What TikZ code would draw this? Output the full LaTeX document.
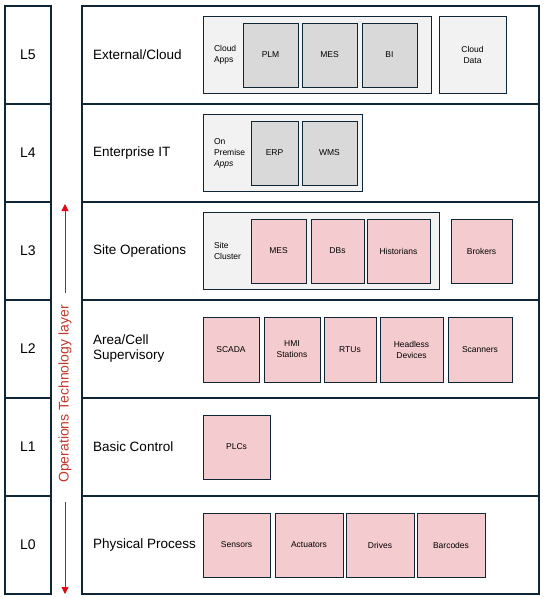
\documentclass[tikz,border=0pt]{standalone}
\usepackage{fontspec}
\setmainfont{Liberation Sans}
\usetikzlibrary{positioning,arrows.meta}

\definecolor{navy}{HTML}{0E2636}
\definecolor{groupgray}{HTML}{F2F2F2}
\definecolor{appgray}{HTML}{D9D9D9}
\definecolor{otpink}{HTML}{F4CCCF}
\definecolor{arrowred}{HTML}{E30613}
\definecolor{labelred}{HTML}{C0392B}

\begin{document}
\begin{tikzpicture}[x=1pt, y=-1pt, node distance=4pt,
                    every node/.style={inner sep=1pt, outer sep=0pt},
                    level box/.style={draw=navy, line width=1.1pt, anchor=north west,
                                      minimum height=98pt, font=\fontsize{14}{16}\selectfont},
                    level name/.style={anchor=west, align=left, font=\fontsize{13.5}{15}\selectfont},
                    group box/.style={draw=navy, line width=1pt, fill=groupgray, anchor=north west,
                                      minimum height=77pt},
                    group name/.style={anchor=west, align=left, font=\fontsize{8.5}{11}\selectfont},
                    app box/.style={draw=navy, line width=1pt, fill=appgray, align=center,
                                    minimum height=64pt, font=\fontsize{8.5}{11}\selectfont},
                    ot box/.style={app box, fill=otpink}]

  \useasboundingbox (0,0) rectangle (545,598);

  % the six levels
  \foreach \n in {5,...,0} {
    \node[level box, minimum width=46pt] (l\n) at (5,{6+98*(5-\n)}) {L\n};
    \node[level box, minimum width=457pt] (r\n) at (82,{6+98*(5-\n)}) {};
  }

  \node[level name] (name5) at (92,55) {External/Cloud};
  \node[level name] (name4) at (92,153) {Enterprise IT};
  \node[level name] (name3) at (92,251) {Site Operations};
  \node[level name] (name2) at (92,349) {Area/Cell\\Supervisory};
  \node[level name] (name1) at (92,447) {Basic Control};
  \node[level name] (name0) at (92,545) {Physical Process};

  % OT layer arrow
  \node[rotate=90, text=labelred, font=\fontsize{14}{16}\selectfont] (otlayer) at (65,394) {Operations Technology layer};
  \coordinate (uptail) at (65,293);
  \coordinate (uphead) at (65,204);
  \coordinate (downtail) at (65,502);
  \coordinate (downhead) at (65,594);
  \draw[arrowred, line width=0.9pt, -{Triangle[length=7pt,width=7pt]}] (uptail) -- (uphead);
  \draw[arrowred, line width=0.9pt, -{Triangle[length=7pt,width=7pt]}] (downtail) -- (downhead);

  % L5
  \node[group box, minimum width=228pt] (cloudapps) at (203,16) {};
  \node[group name] at (213,55) {Cloud\\Apps};
  \node[app box, anchor=north west, minimum width=55pt] (plm) at (243,23) {PLM};
  \node[app box, minimum width=55pt, right=of plm] (mes5) {MES};
  \node[app box, minimum width=55pt, right=5pt of mes5] (bi) {BI};
  \node[group box, minimum width=67pt, align=center, font=\fontsize{8.5}{11}\selectfont] (clouddata) at (439,16) {Cloud\\Data};

  % L4
  \node[group box, minimum width=159pt] (onprem) at (203,114) {};
  \node[group name] at (213,153) {On\\Premise\\\textit{Apps}};
  \node[app box, anchor=north west, minimum width=47pt] (erp) at (251,121) {ERP};
  \node[app box, minimum width=55pt, right=of erp] (wms) {WMS};

  % L3
  \node[group box, minimum width=236pt] (sitecluster) at (203,212) {};
  \node[group name] at (213,251) {Site\\Cluster};
  \node[ot box, anchor=north west, minimum width=55pt] (mes3) at (251,219) {MES};
  \node[ot box, minimum width=53pt, right=5pt of mes3] (dbs) {DBs};
  \node[ot box, minimum width=63pt, right=3pt of dbs] (historians) {Historians};
  \node[ot box, anchor=north west, minimum width=61pt] (brokers) at (451,219) {Brokers};

  % L2
  \node[ot box, anchor=north west, minimum width=56pt, minimum height=65pt] (scada) at (203,317) {SCADA};
  \node[ot box, minimum width=56pt, minimum height=65pt, right=5pt of scada] (hmi) {HMI\\Stations};
  \node[ot box, minimum width=52pt, minimum height=65pt, right=of hmi] (rtus) {RTUs};
  \node[ot box, minimum width=63pt, minimum height=65pt, right=of rtus] (headless) {Headless\\Devices};
  \node[ot box, minimum width=64pt, minimum height=65pt, right=5pt of headless] (scanners) {Scanners};

  % L1
  \node[ot box, anchor=north west, minimum width=67pt] (plcs) at (203,415) {PLCs};

  % L0
  \node[ot box, anchor=north west, minimum width=67pt] (sensors) at (203,513) {Sensors};
  \node[ot box, minimum width=68pt, right=5pt of sensors] (actuators) {Actuators};
  \node[ot box, minimum width=68pt, right=3pt of actuators] (drives) {Drives};
  \node[ot box, minimum width=68pt, right=3pt of drives] (barcodes) {Barcodes};

\end{tikzpicture}
\end{document}
